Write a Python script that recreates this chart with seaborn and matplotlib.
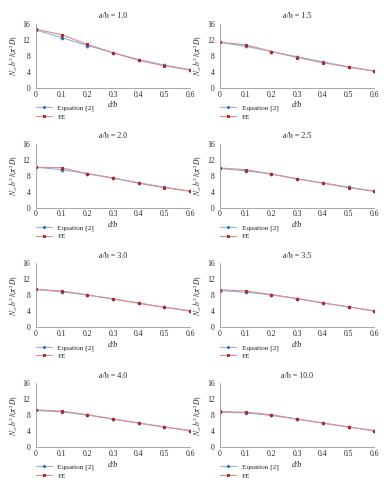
import pandas as pd
import seaborn as sns
import matplotlib.pyplot as plt

# data
d_b = [0, 0.1, 0.2, 0.3, 0.4, 0.5, 0.6]
ratios = ["1.0", "1.5", "2.0", "2.5", "3.0", "3.5", "4.0", "10.0"]

eq_10 = [14.5, 12.6, 10.6, 8.8, 7.1, 5.7, 4.5]
fe_10 = [14.7, 13.3, 10.9, 8.8, 6.9, 5.5, 4.5]
eq_15 = [11.4, 10.4, 9.1, 7.8, 6.5, 5.3, 4.2]
fe_15 = [11.4, 10.8, 9.1, 7.6, 6.3, 5.2, 4.2]
eq_20 = [10.1, 9.5, 8.5, 7.4, 6.2, 5.1, 4.1]
fe_20 = [10.1, 10.0, 8.5, 7.4, 6.1, 5.0, 4.1]
eq_25 = [9.8, 9.2, 8.4, 7.2, 6.2, 5.1, 4.1]
fe_25 = [9.9, 9.5, 8.4, 7.2, 6.1, 5.0, 4.1]
eq_30 = [9.5, 8.9, 8.1, 7.1, 6.1, 5.0, 4.1]
fe_30 = [9.5, 9.1, 8.1, 7.1, 6.0, 5.0, 4.1]
eq_35 = [9.2, 8.8, 8.1, 7.2, 6.1, 5.1, 4.1]
fe_35 = [9.4, 9.1, 8.2, 7.2, 6.1, 5.1, 4.1]
eq_40 = [9.15, 8.8, 8.0, 7.0, 6.0, 5.0, 4.1]
fe_40 = [9.3, 9.0, 8.1, 7.0, 6.0, 5.0, 4.1]
eq_100 = [8.7, 8.55, 7.9, 7.0, 6.0, 5.0, 4.1]
fe_100 = [8.9, 8.7, 8.1, 7.0, 6.0, 5.0, 4.1]

eq_all = [eq_10, eq_15, eq_20, eq_25, eq_30, eq_35, eq_40, eq_100]
fe_all = [fe_10, fe_15, fe_20, fe_25, fe_30, fe_35, fe_40, fe_100]

sns.set_style("white")
plt.rcParams["font.family"] = ["Liberation Serif", "DejaVu Serif"]
plt.rcParams["mathtext.fontset"] = "stix"

fig, axes = plt.subplots(4, 2, figsize=(3.91, 5.0), dpi=100)
fig.subplots_adjust(left=0.092, right=0.957, top=0.952, bottom=0.106,
                    wspace=0.195, hspace=0.875)

for i, ax in enumerate(axes.flat):
    df = pd.DataFrame({"d/b": d_b, "eq": eq_all[i], "fe": fe_all[i]})
    sns.lineplot(data=df, x="d/b", y="eq", ax=ax, color="#8fb0e0", lw=0.8,
                 marker="D", markersize=1.6, markerfacecolor="#3d64b8",
                 markeredgecolor="#3d64b8", label="Equation [2]")
    sns.lineplot(data=df, x="d/b", y="fe", ax=ax, color="#e08a8a", lw=0.8,
                 marker="s", markersize=2.0, markerfacecolor="#b02a2a",
                 markeredgecolor="#b02a2a", label="FE")

    ax.set_xlim(0, 0.6)
    ax.set_ylim(0, 16)
    ax.set_xticks(d_b)
    ax.set_xticklabels(["0", "0.1", "0.2", "0.3", "0.4", "0.5", "0.6"])
    ax.set_yticks([0, 4, 8, 12, 16])
    ax.tick_params(labelsize=5.5, length=2, width=0.5, color="#999999", pad=2)
    ax.tick_params(axis="x", direction="in")
    sns.despine(ax=ax)
    for s in ["left", "bottom"]:
        ax.spines[s].set_color("#999999")
        ax.spines[s].set_linewidth(0.6)

    ax.set_title("a/b = " + ratios[i], fontsize=5.8, pad=4)
    ax.set_xlabel("d/b", fontsize=5.8, style="italic", labelpad=2)
    ax.set_ylabel(r"$N_{cr}b^2\,/(\pi^2D)$", fontsize=5.5, labelpad=2)
    ax.legend(loc="upper left", bbox_to_anchor=(-0.02, -0.22), frameon=False,
              fontsize=5.2, handlelength=2.2, handletextpad=0.8,
              labelspacing=0.3, borderaxespad=0, markerscale=0.8)

fig.savefig("out.png", dpi=100)
